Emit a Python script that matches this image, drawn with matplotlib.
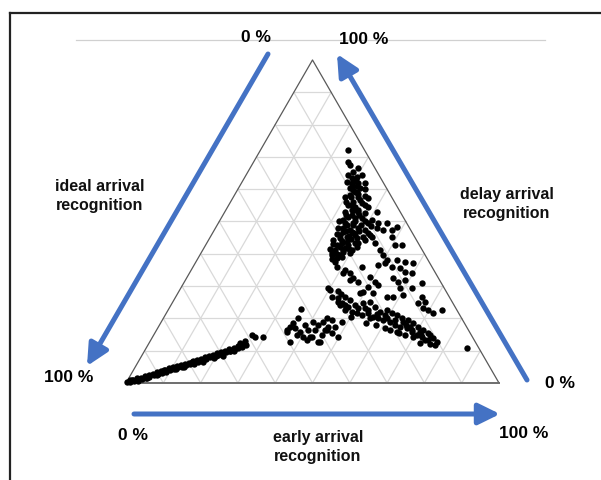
import numpy as np
import matplotlib
matplotlib.use("Agg")
import matplotlib.pyplot as plt
from matplotlib.lines import Line2D

plt.rcParams['font.family'] = ['Liberation Sans', 'DejaVu Sans']

# ternary data in percent: (early arrival, delay arrival); ideal = 100 - early - delay
band_early = [0.3, 0.6, 1.0, 1.4, 1.8, 2.3, 2.7, 3.1, 3.6, 4.0, 4.4, 4.9, 5.3, 5.8, 6.2,
              6.6, 7.1, 7.5, 8.0, 8.4, 8.8, 9.3, 9.7, 10.2, 10.6, 11.0, 11.5, 11.9, 12.4,
              12.8, 13.3, 13.7, 14.1, 14.6, 15.0, 15.5, 15.9, 16.3, 16.8, 17.2, 17.7, 18.1,
              18.5, 19.0, 19.4, 19.9, 20.3, 20.7, 21.2, 21.6, 22.1, 22.5, 22.9, 23.4, 23.8,
              24.3, 24.7, 25.1, 25.6, 26.0, 26.2, 27.5, 29.6, 26.4, 24.5, 22.8, 25.3,
              3.0, 5.0, 7.0, 9.0, 11.3, 13.0, 15.3, 17.5, 19.6, 21.8, 24.0, 8.2, 14.4, 20.0, 1.2]
band_delay = [0.2, 0.8, 0.3, 1.0, 0.6, 1.4, 0.9, 1.6, 1.2, 2.2, 1.7, 2.5, 2.0, 2.9, 2.6,
              3.3, 2.8, 3.6, 3.2, 4.1, 3.7, 4.5, 4.0, 4.8, 4.3, 5.2, 4.9, 5.6, 5.1,
              6.0, 5.5, 6.3, 5.9, 6.8, 6.2, 7.0, 6.6, 7.5, 7.1, 7.9, 7.4, 8.3,
              7.9, 8.8, 8.2, 9.2, 8.7, 9.5, 9.1, 10.0, 9.6, 10.4, 9.9, 10.9, 10.3,
              11.3, 10.8, 11.6, 11.2, 12.0, 14.9, 14.2, 14.2, 11.8, 12.3, 10.0, 13.0,
              0.6, 1.5, 2.4, 3.4, 4.3, 5.0, 5.8, 6.5, 7.8, 8.5, 9.8, 4.0, 6.4, 8.3, 0.9]

small_cluster = [(35.4, 22.9), (36.0, 20.1), (35.5, 18.6), (35.3, 17.3), (35.2, 15.8), (37.6, 12.7),
                 (38.3, 14.9), (40.3, 14.2), (41.8, 13.3), (42.7, 14.2), (42.5, 18.0), (43.3, 18.9),
                 (43.8, 20.1), (45.4, 17.3), (45.1, 12.7), (44.2, 25.1), (46.6, 24.1), (39.0, 18.0),
                 (42.5, 16.4), (42.2, 14.2), (45.6, 12.7), (34.9, 16.4), (38.7, 15.8), (36.8, 17.0),
                 (40.6, 16.4), (40.7, 18.9), (45.0, 14.9), (45.1, 16.4)]

upper_cluster = [(23.5, 72.1), (25.3, 68.4), (26.2, 67.5), (28.2, 65.3), (27.3, 64.4), (30.0, 63.8),
                 (31.0, 64.4), (28.1, 62.2), (29.6, 61.9), (31.2, 61.9), (33.1, 61.9), (29.8, 60.4),
                 (32.4, 59.1), (30.9, 58.2), (33.4, 57.6), (36.2, 57.3), (32.8, 56.0), (31.9, 55.1),
                 (35.3, 55.7), (37.6, 54.5), (40.8, 52.9), (33.8, 53.6), (35.7, 52.9), (37.8, 52.6),
                 (33.8, 51.4), (35.8, 51.1), (37.6, 51.1), (40.6, 50.5), (34.0, 49.5), (36.4, 48.9),
                 (40.1, 49.5), (42.8, 49.5), (45.1, 49.5), (34.2, 48.0), (36.3, 47.4), (38.2, 48.0),
                 (40.4, 47.4), (43.3, 48.0), (45.2, 47.4), (47.6, 47.4), (34.5, 45.8), (36.6, 45.2),
                 (38.5, 45.8), (40.9, 45.2), (42.5, 45.8), (48.5, 48.3),
                 (33.3, 44.3), (35.2, 42.7), (36.3, 43.3), (38.2, 42.7), (39.8, 43.3), (35.4, 41.2),
                 (37.6, 41.2), (39.9, 40.2), (37.6, 39.6), (35.1, 40.2), (37.2, 38.7), (37.3, 37.5),
                 (37.8, 41.8), (40.0, 41.2), (40.6, 43.3), (42.0, 44.3), (43.3, 45.2), (45.1, 43.3),
                 (47.5, 41.2), (49.1, 39.6), (48.7, 45.2), (50.8, 42.7), (52.6, 42.7), (34.9, 46.7),
                 (37.3, 46.7), (32.8, 48.0), (34.8, 48.9), (34.6, 52.0), (32.3, 52.9), (34.2, 54.5),
                 (34.4, 56.7), (29.9, 57.6), (30.9, 59.8), (32.5, 60.4), (28.9, 63.5), (28.9, 66.6),
                 (36.0, 44.0), (38.0, 44.5), (34.0, 43.0), (36.5, 40.0), (38.5, 39.0), (36.0, 38.5),
                 (39.0, 41.5), (41.0, 42.0), (35.5, 47.0), (39.0, 47.0), (33.0, 50.5), (36.5, 50.0),
                 (39.0, 50.0), (34.5, 53.5), (36.5, 55.0), (33.0, 58.5), (31.5, 61.0), (30.5, 62.5),
                 (35.0, 58.0), (38.0, 46.5),
                 (32.0, 50.0), (33.5, 46.0), (35.0, 45.0), (37.0, 45.5), (39.5, 45.0), (41.5, 46.5),
                 (37.5, 43.5), (35.5, 39.5), (38.0, 40.5), (36.5, 42.0), (34.0, 41.5), (33.0, 52.0),
                 (35.5, 53.5), (31.0, 56.0), (33.0, 55.0), (32.0, 59.0), (30.0, 61.0), (34.0, 60.0),
                 (31.5, 57.5), (36.5, 52.0), (38.5, 49.0), (41.5, 48.5), (36.0, 49.5)]

middle_scatter = [(50.8, 37.2), (50.9, 38.1), (53.6, 38.1), (56.1, 37.5), (58.3, 37.2), (49.3, 36.5),
                  (53.4, 35.9), (55.6, 35.6), (57.6, 34.4), (59.6, 34.1), (41.2, 35.0), (43.0, 34.1),
                  (44.6, 32.5), (46.6, 31.3), (45.3, 35.9), (49.0, 32.8), (51.1, 31.3), (52.4, 30.3),
                  (50.1, 29.7), (49.4, 28.2), (52.3, 27.9), (55.4, 32.5), (57.3, 31.3), (58.9, 31.9),
                  (61.9, 29.4), (63.8, 31.0), (58.7, 29.4), (60.6, 27.2), (56.6, 26.6), (58.3, 26.6),
                  (66.0, 26.6), (67.6, 25.1), (68.0, 23.2), (69.6, 22.6), (71.4, 21.7), (73.4, 22.6),
                  (65.9, 24.8), (40.3, 28.8), (38.6, 35.9), (41.2, 34.1), (44.1, 31.9), (48.8, 27.9),
                  (45.4, 26.6)]

lower_band = [(39.4, 29.4), (41.9, 26.6), (43.6, 26.3), (45.5, 24.8), (47.7, 23.5), (49.3, 24.1),
              (50.6, 23.2), (52.5, 23.2), (52.8, 25.1), (54.9, 23.5), (57.1, 22.0), (58.6, 22.6),
              (60.4, 21.7), (62.0, 21.1), (63.9, 20.1), (65.8, 19.5), (67.6, 18.6), (69.6, 17.3),
              (71.4, 16.4), (73.1, 15.5), (75.3, 13.9), (76.9, 12.7), (47.4, 22.6), (49.6, 22.0),
              (51.0, 21.7), (52.6, 21.1), (54.0, 21.7), (56.0, 20.4), (57.4, 20.1), (59.1, 19.5),
              (61.3, 18.9), (63.1, 18.0), (64.7, 17.3), (66.8, 17.0), (68.7, 15.8), (70.5, 14.9),
              (72.2, 14.2), (73.4, 13.3), (62.6, 16.4), (64.7, 15.8), (67.3, 14.9), (69.8, 14.2),
              (45.4, 19.5), (45.7, 16.4), (47.4, 17.3), (49.7, 14.2), (47.4, 15.5), (45.4, 24.1),
              (47.2, 25.7), (51.1, 24.8), (55.4, 20.1), (58.9, 21.1), (64.8, 18.9), (67.4, 17.3),
              (70.9, 15.8), (74.0, 14.9), (76.9, 11.8), (74.2, 13.3), (86.0, 10.8),
              (53.5, 22.5), (56.5, 21.5), (60.0, 20.0), (62.5, 19.5), (66.0, 18.0), (68.5, 16.5),
              (71.5, 15.0), (50.0, 20.5), (48.5, 19.0), (44.0, 27.5), (42.5, 28.5), (55.0, 18.5),
              (58.0, 18.0), (61.0, 17.0), (65.5, 15.5), (72.5, 12.5), (75.5, 12.0)]

blue = '#4472c4'
H = np.sqrt(3) / 2


def tern(early, delay):
    early = np.asarray(early) / 100.0
    delay = np.asarray(delay) / 100.0
    return early + delay / 2, delay * H


def px(xp, yp):
    # pixel position of the reference -> axes data units
    return (xp - 126) / 373.0, (383 - yp) / 373.0


fig = plt.figure(figsize=(6.01, 4.8), dpi=100)
ax = fig.add_axes([0, 0, 1, 1])
ax.set_xlim(-126 / 373.0, 475 / 373.0)
ax.set_ylim(-97 / 373.0, 383 / 373.0)
ax.axis('off')

# grid
gc = '#d9d9d9'
for k in range(1, 10):
    t = k / 10
    ax.plot([t / 2, 1 - t / 2], [t * H, t * H], color=gc, lw=0.9, zorder=1)
    ax.plot([t, (1 + t) / 2], [0, (1 - t) * H], color=gc, lw=0.9, zorder=1)
    ax.plot([t, t / 2], [0, t * H], color=gc, lw=0.9, zorder=1)

ax.plot([1, 0.5, 0], [0, H, 0], color='#595959', lw=0.9, zorder=2)
ax.plot([0, 1], [0, 0], color='#6e6e6e', lw=1.4, zorder=2)

# faint line at the top
x0, y0 = px(76, 40)
x1, _ = px(545, 40)
ax.plot([x0, x1], [y0, y0], color='#d0d0d0', lw=0.9, zorder=0)

# points
groups = small_cluster + upper_cluster + middle_scatter + lower_band
all_e = list(band_early) + [p[0] for p in groups]
all_d = list(band_delay) + [p[1] for p in groups]
xs, ys = tern(all_e, all_d)
ax.scatter(xs, ys, s=21, c='black', linewidths=0, zorder=3)

# arrows
aprops = dict(arrowstyle='-|>,head_length=0.65,head_width=0.32', lw=3.6, color=blue,
              mutation_scale=20, shrinkA=0, shrinkB=0)
ax.annotate('', xy=px(87, 366), xytext=px(268, 54), arrowprops=aprops)
ax.annotate('', xy=px(337, 54), xytext=px(527, 380), arrowprops=aprops)
ax.annotate('', xy=px(500, 414), xytext=px(134, 414), arrowprops=aprops)

# labels
tk = dict(fontsize=12.5, fontweight='bold', ha='center', va='center', color='black')
ax.text(*px(256, 38), '0 %', **tk)
ax.text(*px(364, 40), '100 %', **tk)
ax.text(*px(69, 378), '100 %', **tk)
ax.text(*px(560, 383), '0 %', **tk)
ax.text(*px(133, 435), '0 %', **tk)
ax.text(*px(524, 433), '100 %', **tk)
lk = dict(fontsize=11.5, fontweight='bold', ha='center', va='center', color='#111111',
          linespacing=1.3)
ax.text(*px(100, 196), 'ideal arrival\nrecognition', **lk)
ax.text(*px(507, 204), 'delay arrival\nrecognition', **lk)
ax.text(*px(318, 447), 'early arrival\nrecognition', **lk)

# frame at the left and top
fig.add_artist(Line2D([10 / 601, 10 / 601], [0, 1 - 13 / 480], transform=fig.transFigure,
                      color='#222222', lw=1.6))
fig.add_artist(Line2D([10 / 601, 1], [1 - 13 / 480, 1 - 13 / 480], transform=fig.transFigure,
                      color='#222222', lw=1.6))

fig.savefig('out.png', dpi=100)
